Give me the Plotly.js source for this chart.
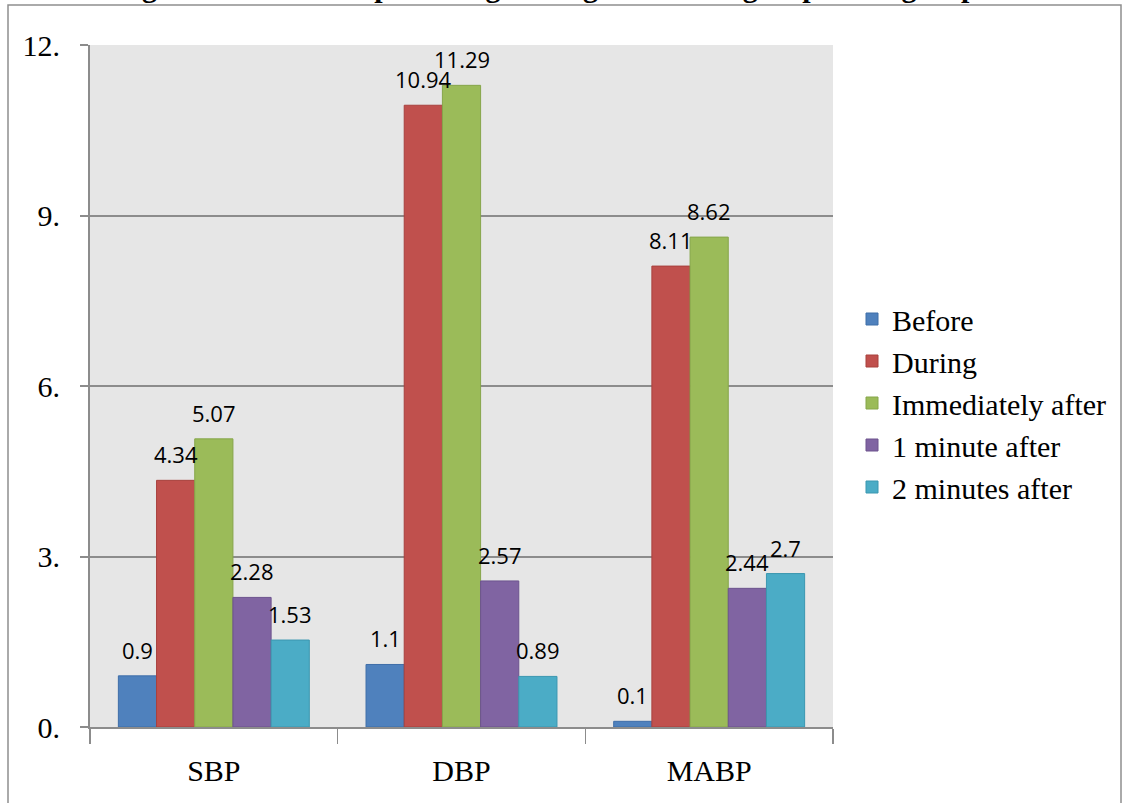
<!DOCTYPE html>
<html>
<head>
<meta charset="utf-8">
<script src="https://cdn.plot.ly/plotly-3.0.1.min.js"></script>
<style>html,body{margin:0;padding:0;background:#fff;}#chart{width:1124px;height:803px;}</style>
</head>
<body>
<div id="chart"></div>
<script>
// ---- data ----
const categories = ["SBP", "DBP", "MABP"];
const seriesNames = ["Before", "During", "Immediately after", "1 minute after", "2 minutes after"];
const before = [0.9, 1.1, 0.1];
const during = [4.34, 10.94, 8.11];
const immediatelyAfter = [5.07, 11.29, 8.62];
const oneMinuteAfter = [2.28, 2.57, 2.44];
const twoMinutesAfter = [1.53, 0.89, 2.7];
const yTickValues = [0, 3, 6, 9, 12];
const yTickLabels = ["0.", "3.", "6.", "9.", "12."];
const chartTitle = "Figure 3: The mean percentage changes between group I and group II";

// ---- styles ----
const fills = ["#4F81BD", "#C0504D", "#9BBB59", "#8064A2", "#4BACC6"];
const edges = ["#3f6ea8", "#a8403d", "#86a64a", "#6c538d", "#3b97b0"];
const allSeries = [before, during, immediatelyAfter, oneMinuteAfter, twoMinutesAfter];

const W = 1124, H = 803;
const M = {l: 90, r: 291, t: 45, b: 76};
const bargap = 0.229;
const plotW = W - M.l - M.r;
const plotH = H - M.t - M.b;
const barPx = plotW / categories.length * (1 - bargap) / allSeries.length;

const traces = allSeries.map((vals, i) => ({
  type: "bar",
  name: seriesNames[i],
  x: categories,
  y: vals,
  marker: {color: fills[i], line: {color: edges[i], width: 1}},
  hoverinfo: "none"
}));

const annotations = [];
allSeries.forEach((vals, i) => {
  vals.forEach((v, j) => {
    annotations.push({
      xref: "x", yref: "y", x: categories[j], y: v,
      text: String(v), showarrow: false,
      xshift: (i - (allSeries.length - 1) / 2) * barPx,
      yshift: 26, yanchor: "middle", xanchor: "center",
      font: {family: "Open Sans, Liberation Sans, sans-serif", size: 22, color: "#000"}
    });
  });
});

const serif = "Liberation Serif, Times New Roman, serif";
const grid = "#8c8c8c";

const layout = {
  width: W, height: H,
  margin: M,
  paper_bgcolor: "#ffffff",
  plot_bgcolor: "#e6e6e6",
  barmode: "group",
  bargap: bargap,
  bargroupgap: 0,
  title: {
    text: "<b>" + chartTitle + "</b>",
    font: {family: serif, size: 30, color: "#000"},
    xref: "container", yref: "container",
    x: 0.5, xanchor: "center",
    y: 1, yanchor: "bottom",
    pad: {b: 3}
  },
  showlegend: true,
  legend: {
    x: (852 - M.l) / plotW, xanchor: "left",
    y: (H - M.b - 403) / plotH, yanchor: "middle",
    font: {family: serif, size: 30, color: "#000"},
    bgcolor: "rgba(0,0,0,0)",
    itemclick: false, itemdoubleclick: false,
    tracegroupgap: 0
  },
  xaxis: {
    type: "category",
    showgrid: false,
    showline: true, linecolor: grid, linewidth: 2,
    ticks: "outside", tickson: "boundaries", ticklen: 15, tickcolor: grid, tickwidth: 1.5,
    tickfont: {family: serif, size: 30, color: "#000"},
    ticklabelstandoff: 16,
    zeroline: false,
    fixedrange: true
  },
  yaxis: {
    range: [0, 12],
    tickvals: yTickValues,
    ticktext: yTickLabels,
    showgrid: true, gridcolor: grid, gridwidth: 2,
    showline: true, linecolor: grid, linewidth: 2,
    ticks: "outside", ticklen: 8, tickcolor: grid, tickwidth: 2,
    tickfont: {family: serif, size: 30, color: "#000"},
    ticklabelstandoff: 14,
    zeroline: false,
    fixedrange: true
  },
  annotations: annotations,
  shapes: [{
    type: "rect", xref: "paper", yref: "paper",
    x0: (8 - M.l) / plotW, x1: (1121 - M.l) / plotW,
    y0: (H - M.b - (H + 20)) / plotH, y1: (H - M.b - 5) / plotH,
    line: {color: "#8e8e8e", width: 1.5},
    fillcolor: "rgba(0,0,0,0)",
    layer: "below"
  }]
};

Plotly.newPlot("chart", traces, layout, {displayModeBar: false, staticPlot: true});
</script>
</body>
</html>
